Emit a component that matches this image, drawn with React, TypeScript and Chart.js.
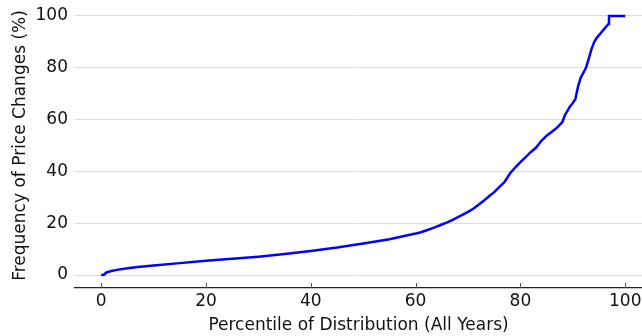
import React, { useEffect, useRef } from "react";
import { Chart, registerables } from "chart.js";

Chart.register(...registerables);

const percentiles = [0, 0.5, 1, 2, 3, 5, 7, 10, 15, 20, 25, 30, 35, 40, 45, 50, 55, 60, 61, 62, 63, 64, 65, 66, 67, 68, 69, 70, 71, 72, 73, 74, 75, 76, 77, 78, 79, 80, 81, 82, 83, 84, 85, 86, 87, 88, 88.5, 89, 89.5, 90, 90.5, 91, 91.5, 92, 92.5, 93, 93.5, 94, 94.5, 95, 95.5, 96, 96.5, 96.8, 96.9, 100];
const frequencies = [0, 0.1, 1.0, 1.6, 2.0, 2.6, 3.1, 3.7, 4.6, 5.5, 6.3, 7.1, 8.1, 9.3, 10.6, 12.2, 13.8, 16.0, 16.5, 17.2, 17.9, 18.7, 19.5, 20.3, 21.2, 22.3, 23.3, 24.4, 25.6, 27.1, 28.7, 30.4, 32.0, 34.0, 36.0, 39.2, 41.5, 43.6, 45.5, 47.5, 49.2, 51.8, 53.8, 55.3, 56.9, 59.0, 61.8, 63.5, 65.2, 66.4, 68.0, 72.8, 76.2, 78.0, 80.0, 83.2, 86.8, 89.6, 91.4, 92.6, 93.8, 95.0, 96.2, 96.9, 100, 100];
const xTicks = [0, 20, 40, 60, 80, 100];
const yTicks = [0, 20, 40, 60, 80, 100];
const xTitle = "Percentile of Distribution (All Years)";
const yTitle = "Frequency of Price Changes (%)";

const FONT = "'DejaVu Sans', sans-serif";

const inwardTicks = {
  id: "inwardTicks",
  afterDatasetsDraw(chart: any) {
    const sx = chart.scales.x;
    const bottom = chart.chartArea.bottom;
    const ctx = chart.ctx;
    ctx.save();
    ctx.strokeStyle = "#555";
    ctx.lineWidth = 1;
    xTicks.forEach((t) => {
      const px = Math.round(sx.getPixelForValue(t)) + 0.5;
      ctx.beginPath();
      ctx.moveTo(px, bottom);
      ctx.lineTo(px, bottom - 5);
      ctx.stroke();
    });
    ctx.restore();
  },
};

export default function App() {
  const ref = useRef<HTMLCanvasElement>(null);
  useEffect(() => {
    document.body.style.margin = "0";
    const chart = new Chart(ref.current!, {
      type: "line",
      data: {
        datasets: [
          {
            data: percentiles.map((p, i) => ({ x: p, y: frequencies[i] })),
            borderColor: "#0000ff",
            borderWidth: 2.5,
            pointRadius: 0,
            tension: 0,
            fill: false,
          },
        ],
      },
      options: {
        animation: false,
        responsive: false,
        maintainAspectRatio: false,
        layout: { padding: { top: 3, right: 0, left: 0, bottom: 0 } },
        plugins: { legend: { display: false }, tooltip: { enabled: false } },
        scales: {
          x: {
            type: "linear",
            min: -5,
            max: 103.2,
            afterBuildTicks: (s: any) => {
              s.ticks = xTicks.map((v) => ({ value: v }));
            },
            afterFit: (s: any) => {
              s.height = 48;
              s.paddingLeft = 0;
              s.paddingRight = 0;
            },
            grid: { display: true, drawOnChartArea: false, drawTicks: false },
            border: { display: true, color: "#222", width: 1.2 },
            ticks: {
              padding: 3,
              color: "#111",
              font: { family: FONT, size: 17 },
              maxRotation: 0,
            },
            title: {
              display: true,
              text: xTitle,
              color: "#111",
              font: { family: FONT, size: 17 },
              padding: { top: 3, bottom: 0 },
            },
          },
          y: {
            type: "linear",
            min: -5,
            max: 105,
            afterBuildTicks: (s: any) => {
              s.ticks = yTicks.map((v) => ({ value: v }));
            },
            afterFit: (s: any) => {
              s.width = 75;
              s.paddingTop = 0;
              s.paddingBottom = 0;
            },
            grid: { color: "#dcdcdc", lineWidth: 1, drawTicks: false },
            border: { display: false },
            ticks: {
              padding: 7,
              color: "#111",
              font: { family: FONT, size: 17 },
            },
            title: {
              display: true,
              text: yTitle,
              color: "#111",
              font: { family: FONT, size: 17 },
              padding: { top: 10, bottom: 0 },
            },
          },
        },
      },
      plugins: [inwardTicks],
    });
    return () => chart.destroy();
  }, []);
  return <canvas ref={ref} width={642} height={336} style={{ display: "block" }} />;
}
